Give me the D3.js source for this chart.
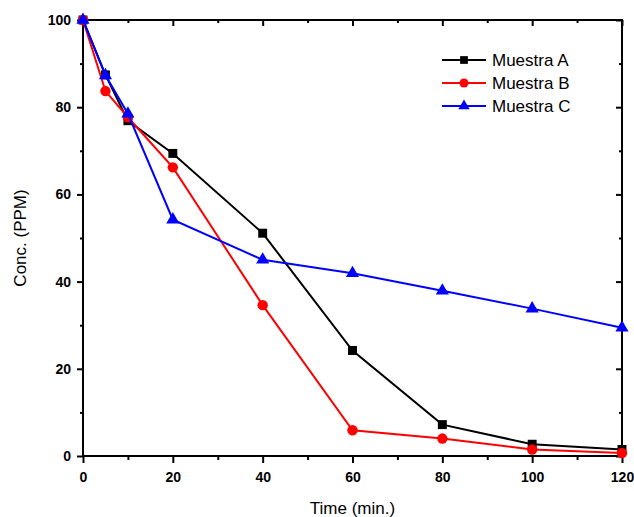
<!DOCTYPE html>
<html>
<head>
<meta charset="utf-8">
<script src="https://cdn.jsdelivr.net/npm/d3@7"></script>
<style>
  body { margin: 0; background: #fff; }
  svg { display: block; font-family: 'Liberation Sans', Arial, sans-serif; }
</style>
</head>
<body>
<div id="chart"></div>
<script>
'use strict';

const times = [0, 5, 10, 20, 40, 60, 80, 100, 120];
const muestraA = [100, 87.4, 76.9, 69.4, 51.1, 24.2, 7.2, 2.7, 1.5];
const muestraB = [100, 83.7, 77.7, 66.2, 34.6, 5.9, 4.0, 1.5, 0.7];
const muestraC = [100, 87.3, 78.5, 54.2, 45.0, 41.9, 37.9, 33.8, 29.4];
const seriesNames = ['Muestra A', 'Muestra B', 'Muestra C'];
const xTicks = [0, 20, 40, 60, 80, 100, 120];
const yTicks = [0, 20, 40, 60, 80, 100];

const width = 634;
const height = 517;
const margin = {top: 20, right: 12, bottom: 61, left: 83};

const series = [
    {name: seriesNames[0], values: muestraA, color: '#000000', symbol: d3.symbolSquare, size: 80},
    {name: seriesNames[1], values: muestraB, color: '#ff0000', symbol: d3.symbolCircle, size: 85},
    {name: seriesNames[2], values: muestraC, color: '#0000ff', symbol: d3.symbolTriangle, size: 75}
];

const svg = d3.select('#chart')
    .append('svg')
    .attr('width', width)
    .attr('height', height);

const x = d3.scaleLinear()
    .domain([0, 120])
    .range([margin.left, width - margin.right]);
const y = d3.scaleLinear()
    .domain([0, 100])
    .range([height - margin.bottom, margin.top]);

const x0 = x.range()[0], x1 = x.range()[1];
const y0 = y.range()[0], y1 = y.range()[1];
const minorX = d3.range(10, 120, 20);
const minorY = d3.range(10, 100, 20);

// frame
svg.append('rect')
    .attr('x', x0)
    .attr('y', y1)
    .attr('width', x1 - x0)
    .attr('height', y0 - y1)
    .attr('fill', 'none')
    .attr('stroke', '#000')
    .attr('stroke-width', 2);

const tickStyle = g => g.call(s => s.select('.domain').remove())
    .selectAll('line').attr('stroke', '#000').attr('stroke-width', 2);

// bottom axis, outward ticks
svg.append('g')
    .attr('transform', `translate(0,${y0})`)
    .call(d3.axisBottom(x).tickValues(xTicks).tickSize(7).tickPadding(9))
    .call(tickStyle)
    .call(g => g.selectAll('text')
        .attr('fill', '#000')
        .style('font-size', '14px')
        .style('font-weight', 'bold'));
svg.append('g')
    .attr('transform', `translate(0,${y0})`)
    .call(d3.axisBottom(x).tickValues(minorX).tickSize(4).tickFormat(''))
    .call(tickStyle);

// left axis, outward ticks
svg.append('g')
    .attr('transform', `translate(${x0},0)`)
    .call(d3.axisLeft(y).tickValues(yTicks).tickSize(6).tickPadding(6))
    .call(tickStyle)
    .call(g => g.selectAll('text')
        .attr('fill', '#000')
        .style('font-size', '14px')
        .style('font-weight', 'bold'));
svg.append('g')
    .attr('transform', `translate(${x0},0)`)
    .call(d3.axisLeft(y).tickValues(minorY).tickSize(3).tickFormat(''))
    .call(tickStyle);

// top and right axes, inward ticks
svg.append('g')
    .attr('transform', `translate(0,${y1})`)
    .call(d3.axisBottom(x).tickValues(xTicks).tickSize(6).tickFormat(''))
    .call(tickStyle);
svg.append('g')
    .attr('transform', `translate(0,${y1})`)
    .call(d3.axisBottom(x).tickValues(minorX).tickSize(3).tickFormat(''))
    .call(tickStyle);
svg.append('g')
    .attr('transform', `translate(${x1},0)`)
    .call(d3.axisLeft(y).tickValues(yTicks).tickSize(6).tickFormat(''))
    .call(tickStyle);
svg.append('g')
    .attr('transform', `translate(${x1},0)`)
    .call(d3.axisLeft(y).tickValues(minorY).tickSize(3).tickFormat(''))
    .call(tickStyle);

// axis titles
svg.append('text')
    .attr('x', (x0 + x1) / 2)
    .attr('y', 514)
    .attr('text-anchor', 'middle')
    .style('font-size', '17px')
    .text('Time (min.)');
svg.append('text')
    .attr('transform', `translate(26,${(y0 + y1) / 2}) rotate(-90)`)
    .attr('text-anchor', 'middle')
    .style('font-size', '17px')
    .text('Conc. (PPM)');

// series
const line = d3.line()
    .x((d, i) => x(times[i]))
    .y(d => y(d));

const plot = svg.append('g');
series.forEach(s => {
    plot.append('path')
        .datum(s.values)
        .attr('fill', 'none')
        .attr('stroke', s.color)
        .attr('stroke-width', 2)
        .attr('d', line);
    plot.append('g')
        .selectAll('path')
        .data(s.values)
        .join('path')
        .attr('transform', (d, i) => `translate(${x(times[i])},${y(d)})`)
        .attr('d', d3.symbol().type(s.symbol).size(s.size))
        .attr('fill', s.color);
});

// legend
const legend = svg.append('g')
    .attr('transform', 'translate(442,60)');
series.forEach((s, i) => {
    const row = legend.append('g').attr('transform', `translate(0,${i * 23})`);
    row.append('line')
        .attr('x1', 0).attr('x2', 44)
        .attr('stroke', s.color)
        .attr('stroke-width', 2);
    row.append('path')
        .attr('transform', 'translate(22,0)')
        .attr('d', d3.symbol().type(s.symbol).size(s.size * 0.75))
        .attr('fill', s.color);
    row.append('text')
        .attr('x', 50)
        .attr('dy', '0.35em')
        .style('font-size', '17px')
        .text(s.name);
});
</script>
</body>
</html>
